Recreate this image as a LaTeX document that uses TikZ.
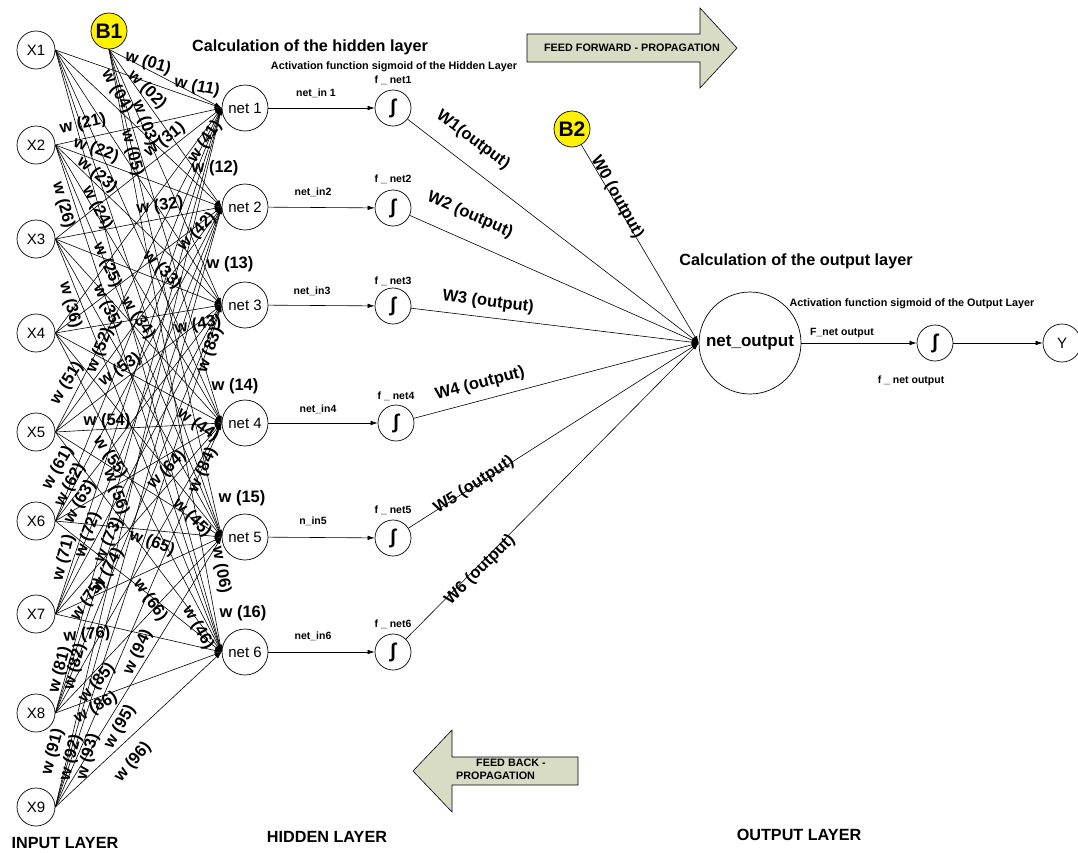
\documentclass[tikz,border=0pt]{standalone}
\usepackage{fontspec}
\setmainfont{Liberation Sans}
\usetikzlibrary{arrows.meta}
\definecolor{arrowfill}{RGB}{217,220,197}
\begin{document}
\begin{tikzpicture}[x=1pt,y=-1pt,
  inp/.style={circle,draw,line width=0.7pt,minimum size=38pt,inner sep=0pt,font=\fontsize{15}{15}\selectfont},
  hid/.style={circle,draw,line width=0.7pt,minimum size=46pt,inner sep=0pt,font=\fontsize{15}{15}\selectfont},
  sig/.style={circle,draw,line width=0.7pt,minimum size=36pt,inner sep=0pt,font=\fontsize{20}{20}\selectfont\bfseries},
  bias/.style={circle,draw,line width=0.7pt,fill=yellow,minimum size=36pt,inner sep=0pt,font=\fontsize{21}{21}\selectfont\bfseries},
  wl/.style={font=\fontsize{16.5}{16.5}\selectfont\bfseries,inner sep=0pt},
  sm/.style={font=\fontsize{10.5}{11}\selectfont\bfseries,inner sep=0pt},
  ttl/.style={font=\fontsize{16.2}{17}\selectfont\bfseries,inner sep=0pt},
  sub/.style={font=\fontsize{10.8}{11}\selectfont\bfseries,inner sep=0pt},
  conn/.style={-{Latex[length=7pt,width=4.5pt]},line width=0.6pt},
  bigarrow/.style={draw,line width=0.6pt,fill=arrowfill}
]
\useasboundingbox (0,0) rectangle (1078,852);

% input nodes
\foreach \i/\y in {1/50,2/145,3/239,4/333,5/432,6/521,7/614,8/713,9/807}
  \node[inp] (X\i) at (36,\y) {X\i};
\node[bias] (B1) at (109,31) {B1};

% hidden nodes
\foreach \j/\y in {1/108,2/207,3/305,4/423,5/537,6/652}
  \node[hid] (h\j) at (245,\y) {net \j};

% sigmoid nodes
\node[sig] (s1) at (393,108) {∫};
\node[sig] (s2) at (393,208) {∫};
\node[sig] (s3) at (393,306) {∫};
\node[sig] (s4) at (396,423) {∫};
\node[sig] (s5) at (393,538) {∫};
\node[sig] (s6) at (393,652) {∫};

\node[bias] (B2) at (572,129) {B2};
\node[circle,draw,line width=0.7pt,minimum size=102pt,inner sep=0pt,font=\fontsize{17}{17}\selectfont\bfseries] (nout) at (750,343) {net\_output};
\node[sig] (so) at (935,343) {∫};
\node[inp] (Y) at (1062,343) {Y};

% input -> hidden connectors
\foreach \i in {1,...,9}
  \foreach \j in {1,...,6}
    \draw[conn] (X\i.east) -- (h\j.west);
\foreach \j in {1,...,6}
  \draw[conn] (B1.south) -- (h\j.west);

% hidden -> sigmoid
\foreach \j in {1,...,6}
  \draw[conn] (h\j) -- (s\j);

% sigmoid -> output
\foreach \j in {1,...,6}
  \draw[conn] (s\j) -- (nout.west);
\draw[conn] (B2) -- (nout.west);
\draw[conn] (nout) -- (so);
\draw[conn] (so) -- (Y);

% weight labels
\foreach \t/\x/\y/\r in {
 01/148/63/-17, 02/147/90/-45, 03/145/123/-70, 04/117/92/-60, 05/132/153/-75, 06/221/570/-80,
 11/197/87/-12, 12/215/168/0, 13/230/264/0, 14/235/386/0, 15/242/498/0, 16/243/613/0,
 21/83/124/13, 22/96/150/-20, 23/97/175/-40, 24/97/208/-62, 25/107/265/-65, 26/63/205/-75,
 31/165/140/38, 32/160/206/8, 33/162/270/-45, 34/138/318/-55, 35/107/307/-65, 36/70/305/-75,
 41/205/142/55, 42/197/232/45, 43/198/325/10, 44/198/425/-35, 45/192/518/-45, 46/198/628/-60,
 51/67/383/58, 52/100/350/68, 53/120/370/35, 54/107/421/0, 55/110/457/-55, 56/116/492/-70,
 61/58/468/60, 62/70/485/62, 63/80/502/60, 64/167/470/45, 65/152/543/-20, 66/150/600/-55,
 71/64/558/75, 72/88/535/70, 73/109/540/65, 74/108/570/60, 75/88/600/55, 76/87/635/5,
 81/60/670/75, 82/75/667/75, 83/210/350/70, 84/203/470/65, 85/97/683/50, 86/96/708/30,
 91/53/752/75, 92/71/758/75, 93/88/757/75, 94/138/652/65, 95/120/727/60, 96/133/762/50}
  \node[wl,rotate=\r] (w\t) at (\x,\y) {w (\t)};

% output weight labels
\node[wl,rotate=-37] (W1) at (473,140) {W1(output)};
\node[wl,rotate=-24] (W2) at (470,215) {W2 (output)};
\node[wl,rotate=-7] (W3) at (488,302) {W3 (output)};
\node[wl,rotate=15] (W4) at (480,384) {W4 (output)};
\node[wl,rotate=33] (W5) at (474,485) {W5 (output)};
\node[wl,rotate=45] (W6) at (480,570) {W6 (output)};
\node[wl,rotate=-61] (W0) at (617,197) {W0 (output)};

% small labels
\node[sm] (ni1) at (316,93) {net\_in 1};
\node[sm] (ni2) at (313,192) {net\_in2};
\node[sm] (ni3) at (312,291) {net\_in3};
\node[sm] (ni4) at (318,409) {net\_in4};
\node[sm] (ni5) at (313,521) {n\_in5};
\node[sm] (ni6) at (313,636) {net\_in6};
\node[sm] (fn1) at (393,80) {f \_ net1};
\node[sm] (fn2) at (393,179) {f \_ net2};
\node[sm] (fn3) at (393,281) {f \_ net3};
\node[sm] (fn4) at (396,396) {f \_ net4};
\node[sm] (fn5) at (393,510) {f \_ net5};
\node[sm] (fn6) at (393,624) {f \_ net6};
\node[sm] (fno) at (842,333) {F\_net output};
\node[sm] (fnout) at (911,381) {f \_ net output};

% titles
\node[ttl] (t1) at (310,47) {Calculation of the hidden layer};
\node[sub] (a1) at (394,67) {Activation function sigmoid of the Hidden Layer};
\node[ttl] (t2) at (796,261) {Calculation of the output layer};
\node[sub] (a2) at (912,304) {Activation function sigmoid of the Output Layer};

% feed arrows
\draw[bigarrow] (527,34) -- (700,34) -- (700,8) -- (737,48) -- (700,88) -- (700,62) -- (527,62) -- cycle;
\node[sub] (ff) at (632,48) {FEED FORWARD - PROPAGATION};
\draw[bigarrow] (413,771) -- (452,730) -- (452,757) -- (578,757) -- (578,785) -- (452,785) -- (452,812) -- cycle;
\node[sub] (fb1) at (511,763) {FEED BACK -};
\node[sub,anchor=west] (fb2) at (456,776) {PROPAGATION};

% layer labels
\node[ttl] (L1) at (65,843) {INPUT LAYER};
\node[ttl] (L2) at (327,837) {HIDDEN LAYER};
\node[ttl] (L3) at (799,835) {OUTPUT LAYER};
\end{tikzpicture}
\end{document}
